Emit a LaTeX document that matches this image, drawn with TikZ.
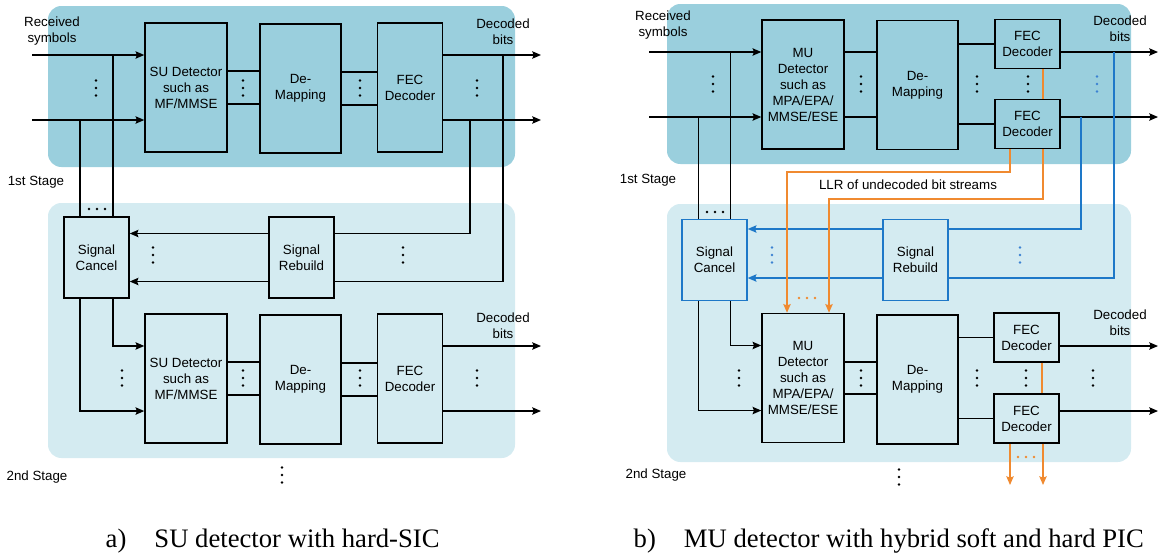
\documentclass[tikz,border=0pt]{standalone}
\usepackage{fontspec}
\setmainfont{Liberation Sans}
\newfontfamily\capfont{Liberation Serif}
\usetikzlibrary{arrows.meta}

\definecolor{stagedark}{RGB}{154,207,221}
\definecolor{stagelight}{RGB}{212,235,241}
\definecolor{sigblue}{RGB}{30,120,200}
\definecolor{dotblue}{RGB}{60,130,210}
\definecolor{llrorange}{RGB}{240,138,48}

\tikzset{
  blk/.style={draw, line width=1.1pt, align=center, inner sep=0pt, font=\fontsize{10}{12}\selectfont},
  detbox/.style={blk, minimum width=61.5pt, minimum height=96.75pt},
  fecbox/.style={blk, minimum width=49pt, minimum height=96.75pt},
  fecsmall/.style={blk, minimum width=48.75pt, minimum height=36.75pt},
  sigbox/.style={blk, minimum width=48.75pt, minimum height=60.75pt},
  lbl/.style={align=center, inner sep=0pt, font=\fontsize{10}{12}\selectfont},
  figcap/.style={anchor=base west, inner sep=0pt, font=\capfont\fontsize{20}{24}\selectfont},
  pics/vdts/.style={code={\foreach \k in {-7.5,0,7.5} \fill (0,\k) circle (1.1pt);}},
  pics/hdts/.style={code={\foreach \k in {-8,0,8} \fill (\k,0) circle (1.1pt);}},
}

\begin{document}
\begin{tikzpicture}[x=0.75pt, y=-0.75pt, >={Stealth[length=6.5pt, width=5.5pt, inset=1pt]}, line width=1.1pt]
    \useasboundingbox (0,0) rectangle (1167,557);

    % Stage backgrounds
    \fill [stagedark, rounded corners=10pt]   (48,6)    rectangle (515,167);
    \fill [stagelight, rounded corners=10pt]  (48,203)  rectangle (515,458);
    \fill [stagedark, rounded corners=10pt]   (667,4)   rectangle (1131,164);
    \fill [stagelight, rounded corners=10pt]  (667,204) rectangle (1131,462);

    % ---- a) SU detector with hard-SIC ----
    % Nodes {sud, dem, fec, canc, rebd}
    \node [detbox]                  (sud1)  at (186,87.5)   {SU Detector\\such as\\MF/MMSE};
    \node [detbox, minimum width=60.75pt] (dem1) at (300.5,88.5) {De-\\Mapping};
    \node [fecbox]                  (fec1)  at (410,87.5)   {FEC\\Decoder};
    \node [sigbox]                  (canc1) at (96.5,257.5) {Signal\\Cancel};
    \node [sigbox]                  (rebd1) at (301.5,257.5) {Signal\\Rebuild};
    \node [detbox]                  (sud2)  at (186,378.5)  {SU Detector\\such as\\MF/MMSE};
    \node [detbox, minimum width=60.75pt] (dem2) at (300.5,379.5) {De-\\Mapping};
    \node [fecbox]                  (fec2)  at (410,378.5)  {FEC\\Decoder};

    % Labels
    \node [lbl] (rxa)   at (52,31)   {Received\\symbols};
    \node [lbl] (deca1) at (503,32)  {Decoded\\bits};
    \node [lbl] (deca2) at (503,326) {Decoded\\bits};
    \node [lbl] (stga1) at (36,182)  {1st Stage};
    \node [lbl] (stga2) at (37,477)  {2nd Stage};

    % Free ends
    \coordinate (ina1)  at (32,55);
    \coordinate (ina2)  at (32,120);
    \coordinate (outa1) at (541,55);
    \coordinate (outa2) at (541,120);
    \coordinate (outa3) at (541,346);
    \coordinate (outa4) at (541,411);
    \coordinate (fba1)  at (503,55);
    \coordinate (fba2)  at (470,120);

    % Paths
    \draw [->] (ina1) -- (ina1 -| sud1.west);
    \draw [->] (ina2) -- (ina2 -| sud1.west);
    \draw ([xshift=12.4pt]canc1.north)  -- ([xshift=12.4pt]canc1.north |- ina1);
    \draw ([xshift=-12.4pt]canc1.north) -- ([xshift=-12.4pt]canc1.north |- ina2);
    \draw ([yshift=12.4pt]sud1.east)  -- ([yshift=12.4pt]sud1.east -| dem1.west);
    \draw ([yshift=-12.4pt]sud1.east) -- ([yshift=-12.4pt]sud1.east -| dem1.west);
    \draw ([yshift=12.4pt]dem1.east)  -- ([yshift=12.4pt]dem1.east -| fec1.west);
    \draw ([yshift=-12.4pt]dem1.east) -- ([yshift=-12.4pt]dem1.east -| fec1.west);
    \draw [->] (fec1.east |- outa1) -- (outa1);
    \draw [->] (fec1.east |- outa2) -- (outa2);
    \draw (fba1) |- ([yshift=-18pt]rebd1.east);
    \draw (fba2) |- ([yshift=18pt]rebd1.east);
    \draw [->] ([yshift=18pt]rebd1.west)  -- ([yshift=18pt]canc1.east);
    \draw [->] ([yshift=-18pt]rebd1.west) -- ([yshift=-18pt]canc1.east);
    \draw [->] ([xshift=12.4pt]canc1.south)  |- ([yshift=24.4pt]sud2.west);
    \draw [->] ([xshift=-12.4pt]canc1.south) |- ([yshift=-24.4pt]sud2.west);
    \draw ([yshift=12.4pt]sud2.east)  -- ([yshift=12.4pt]sud2.east -| dem2.west);
    \draw ([yshift=-12.4pt]sud2.east) -- ([yshift=-12.4pt]sud2.east -| dem2.west);
    \draw ([yshift=12.4pt]dem2.east)  -- ([yshift=12.4pt]dem2.east -| fec2.west);
    \draw ([yshift=-12.4pt]dem2.east) -- ([yshift=-12.4pt]dem2.east -| fec2.west);
    \draw [->] (fec2.east |- outa3) -- (outa3);
    \draw [->] (fec2.east |- outa4) -- (outa4);

    % Dots
    \pic at (96,88)   {vdts};
    \pic at (243,88)  {vdts};
    \pic at (360,88)  {vdts};
    \pic at (477,88)  {vdts};
    \pic at (153,255) {vdts};
    \pic at (403,255) {vdts};
    \pic at (122,378) {vdts};
    \pic at (243,378) {vdts};
    \pic at (360,378) {vdts};
    \pic at (477,378) {vdts};
    \pic at (282,475) {vdts};
    \pic at (97,209)  {hdts};

    % ---- b) MU detector with hybrid soft and hard PIC ----
    % Nodes {mud, dem, fec, canc, rebd}
    \node [detbox]                  (mud1)  at (803,84.5)   {MU\\Detector\\such as\\MPA/EPA/\\MMSE/ESE};
    \node [detbox, minimum width=60.75pt] (dem3) at (917.5,85) {De-\\Mapping};
    \node [fecsmall]                (feca)  at (1027.5,44)  {FEC\\Decoder};
    \node [fecsmall]                (fecb)  at (1027.5,124) {FEC\\Decoder};
    \node [sigbox, draw=sigblue]    (canc2) at (714.5,260)  {Signal\\Cancel};
    \node [sigbox, draw=sigblue]    (rebd2) at (915.5,260)  {Signal\\Rebuild};
    \node [detbox]                  (mud2)  at (803,378)    {MU\\Detector\\such as\\MPA/EPA/\\MMSE/ESE};
    \node [detbox, minimum width=60.75pt] (dem4) at (917.5,379.5) {De-\\Mapping};
    \node [fecsmall]                (fecc)  at (1026.5,337.5) {FEC\\Decoder};
    \node [fecsmall]                (fecd)  at (1026.5,418.5) {FEC\\Decoder};

    % Labels
    \node [lbl] (rxb)    at (663,25)   {Received\\symbols};
    \node [lbl] (decb1)  at (1120,29)  {Decoded\\bits};
    \node [lbl] (decb2)  at (1120,323) {Decoded\\bits};
    \node [lbl] (stgb1)  at (648,180)  {1st Stage};
    \node [lbl] (stgb2)  at (656,475)  {2nd Stage};
    \node [lbl] (llrtxt) at (908,185)  {LLR of undecoded bit streams};

    % Free ends
    \coordinate (inb1)  at (649,52);
    \coordinate (inb2)  at (649,117);
    \coordinate (outb1) at (1158,52);
    \coordinate (outb2) at (1158,117);
    \coordinate (outb3) at (1158,346);
    \coordinate (outb4) at (1158,411);
    \coordinate (fbb1)  at (1114,52);
    \coordinate (fbb2)  at (1081,117);
    \coordinate (llra)  at (787,172);
    \coordinate (llrb)  at (829,199);
    \coordinate (nxa)   at (1010,485);
    \coordinate (nxb)   at (1043,485);

    % Paths
    \draw [->] (inb1) -- (inb1 -| mud1.west);
    \draw [->] (inb2) -- (inb2 -| mud1.west);
    \draw ([xshift=12pt]canc2.north)  -- ([xshift=12pt]canc2.north |- inb1);
    \draw ([xshift=-12pt]canc2.north) -- ([xshift=-12pt]canc2.north |- inb2);
    \draw (inb1 -| mud1.east) -- (inb1 -| dem3.west);
    \draw (inb2 -| mud1.east) -- (inb2 -| dem3.west);
    \draw (feca.west -| dem3.east) -- (feca.west);
    \draw (fecb.west -| dem3.east) -- (fecb.west);
    \draw [->] (feca.east |- outb1) -- (outb1);
    \draw [->] (fecb.east |- outb2) -- (outb2);
    \draw [sigblue] (fbb1) |- ([yshift=-13.5pt]rebd2.east);
    \draw [sigblue] (fbb2) |- ([yshift=23.25pt]rebd2.east);
    \draw [sigblue, ->] ([yshift=23.25pt]rebd2.west) -- ([yshift=23.25pt]canc2.east);
    \draw [sigblue, ->] ([yshift=-13.5pt]rebd2.west) -- ([yshift=-13.5pt]canc2.east);
    \draw [llrorange] ([xshift=11.6pt]feca.south) -- ([xshift=11.6pt]fecb.north);
    \draw [llrorange, ->] ([xshift=-13.1pt]fecb.south) |- (llra) -- (llra |- mud2.north);
    \draw [llrorange, ->] ([xshift=11.6pt]fecb.south)  |- (llrb) -- (llrb |- mud2.north);
    \draw [->] ([xshift=12pt]canc2.south)  |- ([yshift=24.4pt]mud2.west);
    \draw [->] ([xshift=-12pt]canc2.south) |- ([yshift=-24.4pt]mud2.west);
    \draw ([yshift=12pt]mud2.east)  -- ([yshift=12pt]mud2.east -| dem4.west);
    \draw ([yshift=-12pt]mud2.east) -- ([yshift=-12pt]mud2.east -| dem4.west);
    \draw (fecc.west -| dem4.east) -- (fecc.west);
    \draw (fecd.west -| dem4.east) -- (fecd.west);
    \draw [->] (fecc.east |- outb3) -- (outb3);
    \draw [->] (fecd.east |- outb4) -- (outb4);
    \draw [llrorange] ([xshift=11.6pt]fecc.south) -- ([xshift=11.6pt]fecd.north);
    \draw [llrorange, ->] (nxa |- fecd.south) -- (nxa);
    \draw [llrorange, ->] (nxb |- fecd.south) -- (nxb);

    % Dots
    \pic at (713,84)            {vdts};
    \pic at (861,84)            {vdts};
    \pic at (977,84)            {vdts};
    \pic at (1028,84)           {vdts};
    \pic [dotblue] at (1097,84) {vdts};
    \pic [dotblue] at (772,255) {vdts};
    \pic [dotblue] at (1020,255) {vdts};
    \pic at (739,378)           {vdts};
    \pic at (861,378)           {vdts};
    \pic at (977,378)           {vdts};
    \pic at (1026,378)          {vdts};
    \pic at (1093,378)          {vdts};
    \pic at (899,477)           {vdts};
    \pic at (715,212)           {hdts};
    \pic [llrorange] at (807,298)  {hdts};
    \pic [llrorange] at (1026,457) {hdts};

    % Captions
    \node [figcap] (capa) at (105,547) {a)\hspace{21pt}SU detector with hard-SIC};
    \node [figcap] (capb) at (633,547) {b)\hspace{21pt}MU detector with hybrid soft and hard PIC};
\end{tikzpicture}
\end{document}
